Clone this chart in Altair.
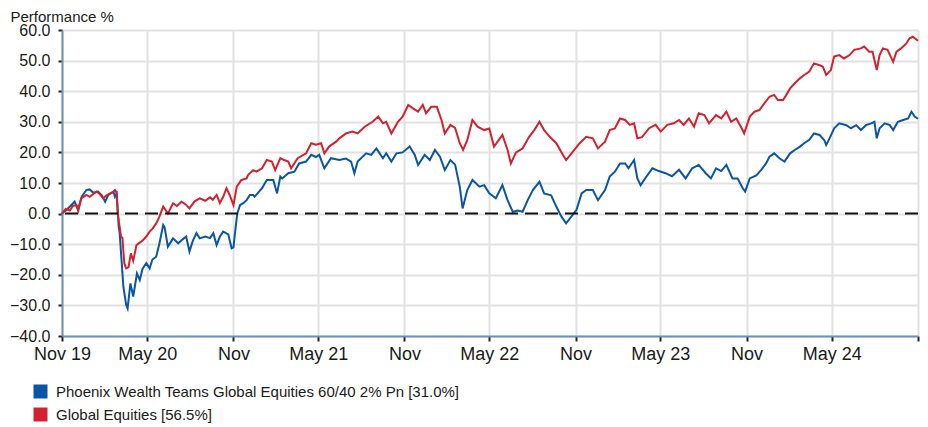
import altair as alt
import pandas as pd

series_names = [
    "Phoenix Wealth Teams Global Equities 60/40 2% Pn [31.0%]",
    "Global Equities [56.5%]",
]
series_colors = ["#0b56a4", "#d0222f"]

blue_dates = [
    "2019-11-01", "2019-11-09", "2019-11-18", "2019-11-28", "2019-12-05", "2019-12-13", "2019-12-23", "2019-12-30",
    "2020-01-07", "2020-01-17", "2020-01-25", "2020-02-01", "2020-02-08", "2020-02-19", "2020-02-22", "2020-02-26",
    "2020-03-01", "2020-03-03", "2020-03-11", "2020-03-17", "2020-03-20", "2020-03-26", "2020-04-01", "2020-04-09",
    "2020-04-15", "2020-04-21", "2020-04-29", "2020-05-06", "2020-05-12", "2020-05-20", "2020-05-27", "2020-06-04",
    "2020-06-07", "2020-06-14", "2020-06-25", "2020-07-06", "2020-07-15", "2020-07-23", "2020-07-30", "2020-08-06",
    "2020-08-14", "2020-08-21", "2020-09-02", "2020-09-12", "2020-09-19", "2020-09-26", "2020-10-03", "2020-10-10",
    "2020-10-21", "2020-10-28", "2020-11-01", "2020-11-04", "2020-11-09", "2020-11-15", "2020-11-22", "2020-11-29",
    "2020-12-06", "2020-12-13", "2020-12-16", "2021-01-01", "2021-01-11", "2021-01-25", "2021-02-02", "2021-02-09",
    "2021-02-13", "2021-02-26", "2021-03-11", "2021-03-21", "2021-04-05", "2021-04-16", "2021-04-26", "2021-05-03",
    "2021-05-14", "2021-05-28", "2021-06-15", "2021-06-29", "2021-07-10", "2021-07-17", "2021-07-24", "2021-08-11",
    "2021-08-22", "2021-09-02", "2021-09-16", "2021-09-23", "2021-10-04", "2021-10-15", "2021-10-28", "2021-11-12",
    "2021-11-23", "2021-11-30", "2021-12-14", "2021-12-25", "2022-01-05", "2022-01-16", "2022-01-26", "2022-02-07",
    "2022-02-17", "2022-02-27", "2022-03-05", "2022-03-15", "2022-03-26", "2022-04-10", "2022-04-20", "2022-05-01",
    "2022-05-15", "2022-05-29", "2022-06-09", "2022-06-20", "2022-07-01", "2022-07-11", "2022-07-22", "2022-08-02",
    "2022-08-16", "2022-08-26", "2022-09-10", "2022-09-21", "2022-10-02", "2022-10-12", "2022-10-23", "2022-11-03",
    "2022-11-14", "2022-11-24", "2022-12-08", "2022-12-19", "2023-01-03", "2023-01-13", "2023-01-24", "2023-02-04",
    "2023-02-15", "2023-02-22", "2023-03-06", "2023-03-13", "2023-03-20", "2023-03-31", "2023-04-14", "2023-04-28",
    "2023-05-12", "2023-05-26", "2023-06-10", "2023-06-24", "2023-07-08", "2023-07-22", "2023-08-06", "2023-08-17",
    "2023-08-28", "2023-09-08", "2023-09-19", "2023-10-02", "2023-10-13", "2023-10-24", "2023-10-29", "2023-11-08",
    "2023-11-22", "2023-12-02", "2023-12-13", "2023-12-20", "2023-12-30", "2024-01-11", "2024-01-21", "2024-02-02",
    "2024-02-12", "2024-02-23", "2024-03-03", "2024-03-14", "2024-03-24", "2024-04-05", "2024-04-15", "2024-04-19",
    "2024-04-26", "2024-05-06", "2024-05-17", "2024-06-01", "2024-06-11", "2024-06-22", "2024-07-02", "2024-07-13",
    "2024-07-24", "2024-07-31", "2024-08-05", "2024-08-11", "2024-08-22", "2024-09-02", "2024-09-09", "2024-09-19",
    "2024-09-30", "2024-10-11", "2024-10-18", "2024-10-25", "2024-11-01",
]
blue_values = [
    0.0, 1.0, 2.3, 3.9, 1.2, 5.5, 7.7, 7.9,
    6.8, 7.2, 6.0, 3.9, 6.1, 7.2, 5.5, 6.5,
    -4.3, -6.3, -23.9, -29.9, -31.0, -22.8, -27.1, -19.5,
    -21.7, -18.0, -16.2, -17.9, -15.0, -14.1, -9.7, -3.7,
    -4.5, -10.8, -8.1, -9.7, -8.5, -7.5, -12.4, -9.0,
    -6.4, -8.1, -7.5, -8.0, -6.4, -10.3, -7.5, -5.9,
    -6.8, -11.3, -11.0, -6.7, 0.0, 2.8, 3.4, 4.4,
    6.1, 6.1, 5.5, 8.3, 11.0, 11.0, 6.6, 12.1,
    11.5, 13.2, 13.7, 16.4, 17.0, 19.2, 18.5, 19.2,
    14.8, 18.1, 17.5, 18.0, 17.0, 13.2, 17.0, 19.7,
    19.2, 21.3, 18.1, 19.7, 17.0, 19.7, 20.0, 21.9,
    19.2, 15.9, 19.2, 17.5, 20.8, 18.5, 14.2, 17.5,
    16.0, 8.8, 1.7, 7.7, 11.0, 8.8, 9.3, 6.6,
    5.0, 9.3, 4.4, 0.6, 1.0, 0.6, 4.4, 7.7,
    10.4, 6.6, 6.0, 2.3, -1.0, -3.2, -1.0, 1.2,
    6.6, 7.7, 7.7, 4.4, 7.7, 12.1, 13.7, 16.4,
    16.4, 14.8, 17.5, 11.5, 9.3, 11.8, 14.8, 13.9,
    13.2, 12.2, 14.3, 11.5, 14.8, 15.9, 13.2, 11.5,
    14.8, 13.9, 15.9, 11.5, 11.5, 8.3, 7.2, 11.5,
    12.5, 14.2, 16.5, 18.6, 19.7, 18.0, 17.0, 19.7,
    20.8, 21.9, 23.0, 24.1, 26.2, 25.7, 24.0, 22.4,
    24.5, 27.9, 29.5, 28.9, 27.9, 28.9, 27.3, 28.9,
    29.5, 30.0, 24.6, 27.9, 29.5, 28.9, 27.3, 30.0,
    30.6, 31.1, 33.3, 31.7, 31.0,
]

red_dates = [
    "2019-11-01", "2019-11-09", "2019-11-18", "2019-11-24", "2019-12-02", "2019-12-06", "2019-12-12", "2019-12-23",
    "2019-12-30", "2020-01-14", "2020-01-21", "2020-01-28", "2020-02-04", "2020-02-12", "2020-02-18", "2020-02-22",
    "2020-02-25", "2020-02-28", "2020-03-06", "2020-03-09", "2020-03-13", "2020-03-17", "2020-03-22", "2020-03-27",
    "2020-04-01", "2020-04-08", "2020-04-15", "2020-04-22", "2020-04-29", "2020-05-06", "2020-05-12", "2020-05-20",
    "2020-05-27", "2020-06-04", "2020-06-14", "2020-06-25", "2020-07-03", "2020-07-13", "2020-07-22", "2020-07-30",
    "2020-08-10", "2020-08-21", "2020-09-02", "2020-09-12", "2020-09-18", "2020-09-26", "2020-10-03", "2020-10-10",
    "2020-10-17", "2020-10-24", "2020-11-01", "2020-11-08", "2020-11-18", "2020-11-29", "2020-12-02", "2020-12-13",
    "2020-12-20", "2021-01-01", "2021-01-11", "2021-01-22", "2021-01-29", "2021-02-09", "2021-02-17", "2021-02-26",
    "2021-03-04", "2021-03-18", "2021-04-05", "2021-04-16", "2021-04-26", "2021-05-07", "2021-05-14", "2021-05-24",
    "2021-06-08", "2021-06-15", "2021-06-29", "2021-07-13", "2021-07-24", "2021-08-08", "2021-08-25", "2021-09-06",
    "2021-09-16", "2021-09-23", "2021-10-04", "2021-10-18", "2021-10-28", "2021-11-09", "2021-11-19", "2021-11-30",
    "2021-12-10", "2021-12-17", "2021-12-28", "2022-01-09", "2022-01-19", "2022-01-26", "2022-02-07", "2022-02-17",
    "2022-02-27", "2022-03-06", "2022-03-15", "2022-03-26", "2022-04-06", "2022-04-20", "2022-05-01", "2022-05-11",
    "2022-05-29", "2022-06-09", "2022-06-16", "2022-06-27", "2022-07-11", "2022-07-25", "2022-08-05", "2022-08-16",
    "2022-08-26", "2022-09-07", "2022-09-21", "2022-10-05", "2022-10-12", "2022-10-26", "2022-11-10", "2022-11-24",
    "2022-12-08", "2022-12-19", "2023-01-03", "2023-01-13", "2023-01-24", "2023-02-04", "2023-02-15", "2023-02-25",
    "2023-03-06", "2023-03-13", "2023-03-23", "2023-04-07", "2023-04-21", "2023-05-02", "2023-05-16", "2023-05-30",
    "2023-06-10", "2023-06-20", "2023-07-01", "2023-07-12", "2023-07-22", "2023-08-03", "2023-08-13", "2023-08-28",
    "2023-09-08", "2023-09-19", "2023-09-29", "2023-10-10", "2023-10-20", "2023-10-27", "2023-11-08", "2023-11-18",
    "2023-11-29", "2023-12-09", "2023-12-20", "2023-12-30", "2024-01-07", "2024-01-18", "2024-01-25", "2024-02-02",
    "2024-02-12", "2024-02-23", "2024-03-03", "2024-03-14", "2024-03-24", "2024-04-05", "2024-04-12", "2024-04-19",
    "2024-04-29", "2024-05-06", "2024-05-17", "2024-05-27", "2024-06-08", "2024-06-18", "2024-07-02", "2024-07-09",
    "2024-07-20", "2024-07-27", "2024-08-05", "2024-08-11", "2024-08-18", "2024-08-28", "2024-09-09", "2024-09-16",
    "2024-09-26", "2024-10-07", "2024-10-14", "2024-10-21", "2024-11-01",
]
red_values = [
    0.0, 1.5, 1.0, 2.5, 2.8, 1.0, 5.0, 6.1,
    5.5, 7.2, 6.3, 5.0, 6.0, 6.6, 7.0, 7.7,
    7.0, 0.0, -7.5, -8.0, -16.2, -17.9, -17.5, -13.0,
    -15.4, -10.3, -9.5, -8.6, -7.5, -5.9, -5.0, -3.2,
    -1.0, 2.3, 0.0, 3.4, 2.5, 3.9, 3.0, 1.7,
    4.0, 5.0, 4.2, 5.3, 4.5, 6.1, 3.4, 5.5,
    8.3, 6.0, 2.8, 8.8, 11.0, 11.5, 12.6, 14.2,
    13.7, 14.8, 17.5, 17.0, 14.2, 18.1, 17.5, 17.0,
    14.8, 18.1, 19.7, 23.0, 22.5, 23.0, 19.7, 21.9,
    23.5, 24.6, 26.2, 26.8, 26.2, 28.4, 30.0, 31.7,
    29.5, 30.0, 26.2, 30.0, 31.7, 35.5, 34.4, 33.3,
    35.5, 32.8, 34.9, 34.9, 30.6, 26.2, 29.0, 28.0,
    23.0, 20.8, 24.0, 30.6, 28.4, 27.3, 27.8, 21.9,
    25.7, 20.8, 16.4, 20.0, 21.3, 25.1, 27.3, 30.0,
    27.3, 25.1, 23.0, 19.2, 17.5, 20.2, 23.0, 25.1,
    24.6, 21.3, 23.5, 27.3, 27.8, 31.1, 30.6, 29.0,
    29.5, 24.6, 25.0, 27.9, 29.0, 26.8, 29.0, 29.5,
    30.6, 29.0, 31.1, 28.4, 32.8, 32.2, 29.5, 32.2,
    31.1, 33.3, 30.0, 31.1, 28.4, 26.2, 31.7, 33.3,
    33.9, 36.0, 38.2, 38.8, 37.1, 37.1, 38.8, 40.9,
    42.6, 44.2, 45.3, 46.4, 49.1, 48.5, 48.0, 45.3,
    46.9, 51.3, 51.8, 50.7, 51.8, 53.5, 54.0, 54.6,
    52.9, 52.9, 46.9, 51.8, 54.0, 53.5, 49.6, 52.9,
    54.0, 55.6, 57.3, 57.8, 56.5,
]

tick_dates = [
    "2019-11-01", "2020-05-01", "2020-11-01", "2021-05-01", "2021-11-01", "2022-05-01",
    "2022-11-01", "2023-05-01", "2023-11-01", "2024-05-01", "2024-11-01",
]
tick_labels = ["Nov 19", "May 20", "Nov", "May 21", "Nov", "May 22", "Nov", "May 23", "Nov", "May 24", ""]
y_ticks = [-40, -30, -20, -10, 0, 10, 20, 30, 40, 50, 60]
baseline_value = [0.0]

blue_df = pd.DataFrame({"date": blue_dates, "value": blue_values, "series": series_names[0]})
red_df = pd.DataFrame({"date": red_dates, "value": red_values, "series": series_names[1]})
zero_df = pd.DataFrame({"value": baseline_value})
legend_df = pd.DataFrame({"series": series_names, "date": [tick_dates[0]] * 2, "value": [None, None]})


def to_dt(s):
    y, m, d = (int(p) for p in s.split("-"))
    return alt.DateTime(year=y, month=m, date=d, utc=True)


label_expr = "''"
for d, l in reversed(list(zip(tick_dates, tick_labels))):
    label_expr = f"utcFormat(datum.value, '%Y-%m-%d') == '{d}' ? '{l}' : ({label_expr})"

FONT = "Liberation Sans"
AXIS_BLUE = "#6a91be"

x_enc = alt.X(
    "date:T",
    scale=alt.Scale(type="utc", domain=[to_dt(tick_dates[0]), to_dt(tick_dates[-1])], nice=False),
    axis=alt.Axis(
        values=[to_dt(d) for d in tick_dates],
        labelExpr=label_expr,
        title=None,
        grid=True,
        gridColor="#e2e2e2",
        gridWidth=2,
        domainColor=AXIS_BLUE,
        domainWidth=2,
        tickColor="#222222",
        tickWidth=2,
        tickSize=5,
        labelFontSize=18,
        labelFont=FONT,
        labelColor="#1a1a1a",
        labelPadding=4,
        labelFlush=False,
        labelOverlap=False,
    ),
)

y_axis = alt.Axis(
    values=y_ticks,
    format=".1f",
    title="Performance %",
    titleAngle=0,
    titleAlign="left",
    titleBaseline="alphabetic",
    titleX=-52,
    titleY=-9,
    titleFont=FONT,
    titleFontSize=15,
    titleFontWeight="normal",
    titleColor="#1a1a1a",
    grid=True,
    gridColor="#e2e2e2",
    gridWidth=2,
    domainColor=AXIS_BLUE,
    domainWidth=2,
    tickColor="#222222",
    tickWidth=2,
    tickSize=4,
    labelFontSize=16,
    labelFont=FONT,
    labelColor="#1a1a1a",
    labelPadding=8,
    labelFlush=False,
    labelOverlap=False,
)
y_scale = alt.Scale(domain=[-40, 60], nice=False, zero=False)
y_enc = alt.Y("value:Q", scale=y_scale, axis=y_axis)

color_scale = alt.Scale(domain=series_names, range=series_colors)
line_color = alt.Color("series:N", scale=color_scale, legend=None)
legend_color = alt.Color(
    "series:N",
    scale=color_scale,
    legend=alt.Legend(
        orient="none",
        legendX=-29,
        legendY=354,
        direction="vertical",
        title=None,
        symbolType="square",
        symbolSize=196,
        symbolStrokeWidth=0,
        labelFont=FONT,
        labelFontSize=15,
        labelColor="#1a1a1a",
        labelOffset=8,
        labelLimit=0,
        rowPadding=7,
        padding=0,
    ),
)

blue_line = alt.Chart(blue_df).mark_line(strokeWidth=2).encode(x=x_enc, y=y_enc, color=line_color)
red_line = alt.Chart(red_df).mark_line(strokeWidth=2).encode(x=x_enc, y=y_enc, color=line_color)
legend_layer = alt.Chart(legend_df).mark_square(size=196, opacity=1, filled=True).encode(
    x=x_enc, y=y_enc, color=legend_color
)
zero_rule = alt.Chart(zero_df).mark_rule(
    color="#111111", strokeWidth=2, strokeDash=[13, 7]
).encode(y=y_enc)

chart = (
    alt.layer(legend_layer, blue_line, red_line, zero_rule)
    .properties(
        width=856,
        height=306,
        autosize=alt.AutoSizeParams(type="none"),
        padding={"left": 54, "top": 22, "right": 2, "bottom": 89},
        background="white",
    )
    .configure_view(stroke=None)
)

chart.save("out.html", embed_options={"renderer": "svg", "actions": False})
